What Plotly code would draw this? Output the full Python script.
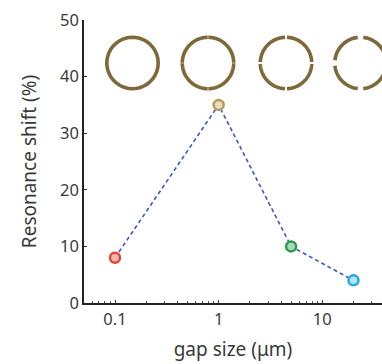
import numpy as np
import plotly.graph_objects as go

# ---- data ----
gap_size = [0.1, 1, 5, 20]
res_shift = [8, 35, 10, 4]
marker_line_colors = ["#e0473c", "#b49a5c", "#2f9a4c", "#2aa8e0"]
marker_fill_colors = ["#f6b9b2", "#e7dcc0", "#a9dcb6", "#b7e4f8"]
y_ticks = [0, 10, 20, 30, 40, 50]
x_ticks = [0.1, 1, 10]
x_tick_labels = ["0.1", "1", "10"]

W, H = 382, 364
L, R, T, B = 84, 0, 20, 61
pw, ph = W - L - R, H - T - B

fig = go.Figure()
fig.add_trace(go.Scatter(
    x=gap_size, y=res_shift, mode="lines+markers",
    line=dict(color="#3858c8", width=1.6, dash="4px,3px"),
    marker=dict(size=10, color=marker_fill_colors,
                line=dict(color=marker_line_colors, width=2.5)),
    showlegend=False, cliponaxis=False,
))

# ---- decorative rings (ring resonators with gaps) ----
ring_centers_px = [132.5, 208, 286, 360.5]
ring_gaps_px = [0, 0.6, 2.0, 5.5]   # gap widths in pixels
ring_cy = 63
rad = 25.7
shapes = []
for cx, g in zip(ring_centers_px, ring_gaps_px):
    xp = (cx - L) / pw
    yp = (H - B - ring_cy) / ph
    if g == 0:
        segs = [(0, 2 * np.pi)]
    else:
        da = g / rad / 2
        segs = [(k * np.pi / 2 + da, (k + 1) * np.pi / 2 - da) for k in range(4)]
    for a0, a1 in segs:
        th = np.linspace(a0, a1, 40)
        pts = [f"{rad*np.cos(t):.2f},{rad*np.sin(t):.2f}" for t in th]
        path = "M" + " L".join(pts)
        if g == 0:
            path += " Z"
        shapes.append(dict(type="path", xref="paper", yref="paper",
                           xsizemode="pixel", ysizemode="pixel",
                           xanchor=xp, yanchor=yp, path=path,
                           line=dict(color="#7f683a", width=3.6),
                           layer="above"))

lo = np.log10(0.1) - (115 - 84) / 103.65
hi = lo + pw / 103.65

font = "Noto Sans, Open Sans, sans-serif"
fig.update_layout(
    width=W, height=H, margin=dict(l=L, r=R, t=T, b=B),
    paper_bgcolor="white", plot_bgcolor="white",
    font=dict(family=font, size=16, color="#3a3a3a"),
    shapes=shapes,
    xaxis=dict(type="log", range=[lo, hi], tickvals=x_ticks, ticktext=x_tick_labels,
               ticks="inside", ticklen=3, tickcolor="#333", showgrid=False,
               showline=True, linecolor="#222", linewidth=1.6, zeroline=False,
               minor=dict(ticks="inside", ticklen=2, tickcolor="#555", dtick="D1", showgrid=False),
               title=dict(text="gap size (μm)", standoff=14),
               tickfont=dict(size=16.5)),
    xaxis2=dict(type="log", range=[lo, hi], overlaying="x", side="top",
                tickvals=x_ticks, showticklabels=False,
                ticks="inside", ticklen=3, tickcolor="#999", showgrid=False,
                showline=True, linecolor="#8a8a8a", linewidth=1.2, zeroline=False,
                minor=dict(ticks="inside", ticklen=2, tickcolor="#aaa", dtick="D1", showgrid=False)),
    yaxis=dict(range=[0, 50], tickvals=y_ticks, ticks="inside", ticklen=3,
               tickcolor="#333", showgrid=False, showline=True, linecolor="#222",
               linewidth=1.6, zeroline=False,
               title=dict(text="Resonance shift (%)", standoff=18),
               tickfont=dict(size=16.5)),
)
fig.write_html("out.html")
